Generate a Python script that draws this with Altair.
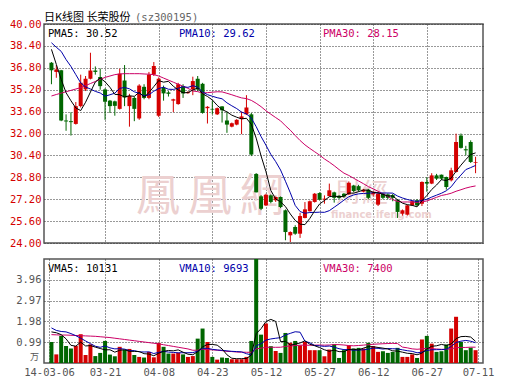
import altair as alt
import pandas as pd

# ---------------- data ----------------
title_main = "日K线图 长荣股份"
title_code = "(sz300195)"

date_labels = ["14-03-06", "03-21", "04-08", "04-23", "05-12", "05-27", "06-12", "06-27", "07-11"]
date_pos = [0.0, 11.5, 22.5, 33.5, 44.5, 55.5, 66.5, 77.5, 88.0]

price_ticks = [24.00, 25.60, 27.20, 28.80, 30.40, 32.00, 33.60, 35.20, 36.80, 38.40, 40.00]
vol_ticks = [0.99, 1.98, 2.97, 3.96]

open_ = [37.17, 36.50, 36.62, 32.95, 32.90, 32.70, 34.00, 35.22, 36.00, 36.60,
         36.13, 35.22, 34.40, 34.35, 33.80, 35.87, 34.00, 34.60, 33.10, 35.41,
         34.60, 36.30, 33.30, 35.34, 35.00, 34.40, 34.15, 35.46, 34.95, 35.22,
         36.00, 35.63, 33.85, 33.80, 33.40, 33.98, 32.95, 32.50, 32.65, 33.05,
         33.40, 33.40, 29.05, 27.41, 26.75, 27.48, 27.12, 27.36, 26.39, 24.56,
         25.17, 24.68, 25.83, 26.32, 27.00, 27.65, 27.17, 27.43, 27.70, 27.45,
         27.60, 27.55, 28.20, 28.15, 27.75, 27.90, 27.55, 26.80, 27.60, 27.55,
         27.50, 27.12, 26.14, 26.07, 26.75, 27.12, 26.87, 28.46, 28.34, 28.94,
         28.99, 28.82, 28.58, 29.19, 31.85, 30.85, 31.38, 29.85]
high_ = [37.22, 37.00, 36.65, 33.40, 33.55, 34.30, 36.30, 36.20, 37.90, 36.90,
         36.75, 35.30, 34.45, 34.40, 36.73, 37.00, 34.90, 34.70, 35.60, 35.60,
         36.50, 37.22, 36.10, 35.50, 35.10, 34.54, 35.70, 35.60, 35.10, 36.15,
         36.20, 35.70, 34.00, 34.40, 33.90, 34.00, 33.60, 32.80, 33.05, 33.60,
         34.80, 33.50, 29.10, 27.50, 27.60, 27.55, 27.40, 27.40, 26.45, 24.85,
         25.30, 26.20, 26.99, 27.10, 27.65, 27.70, 27.48, 28.34, 27.75, 27.50,
         27.65, 28.50, 28.25, 28.25, 27.95, 27.95, 27.80, 27.75, 27.68, 27.62,
         27.58, 27.20, 26.45, 26.80, 27.10, 27.20, 28.50, 28.80, 29.10, 29.05,
         29.00, 28.85, 29.50, 31.99, 32.00, 31.10, 31.50, 30.30]
low_ = [35.60, 36.07, 32.90, 32.20, 31.85, 32.65, 33.90, 35.10, 35.95, 36.30,
        35.20, 33.00, 33.50, 33.30, 33.75, 34.00, 32.50, 32.90, 33.00, 34.50,
        34.50, 36.20, 33.20, 34.40, 34.70, 33.56, 34.10, 34.60, 34.90, 34.80,
        35.10, 33.45, 32.73, 33.40, 33.35, 32.80, 32.05, 32.45, 32.60, 31.95,
        33.35, 30.35, 27.70, 26.40, 26.70, 26.90, 27.00, 26.55, 24.20, 24.07,
        24.60, 24.37, 25.80, 26.30, 26.95, 27.10, 26.87, 27.40, 26.95, 27.20,
        27.30, 27.50, 27.70, 27.75, 27.70, 27.20, 27.40, 26.70, 27.20, 27.20,
        27.05, 25.83, 26.00, 26.00, 26.70, 26.70, 26.70, 27.75, 28.30, 28.60,
        28.60, 27.90, 28.50, 29.15, 30.90, 30.40, 29.85, 29.10]
close_ = [36.62, 36.68, 32.95, 32.88, 32.83, 34.00, 35.71, 36.00, 36.60, 36.50,
          35.46, 34.32, 34.00, 34.02, 36.37, 34.63, 34.75, 33.80, 35.50, 34.60,
          36.30, 36.93, 36.00, 34.93, 34.90, 34.50, 35.60, 34.93, 35.02, 35.83,
          35.22, 33.51, 33.95, 33.75, 33.85, 33.70, 32.65, 32.75, 33.00, 33.25,
          33.90, 30.46, 27.70, 26.50, 27.53, 27.00, 27.36, 26.63, 24.80, 24.80,
          24.68, 25.97, 26.46, 27.05, 27.60, 27.17, 27.24, 27.85, 27.30, 27.30,
          27.40, 28.40, 27.80, 27.85, 27.90, 27.30, 27.68, 27.60, 27.30, 27.30,
          27.30, 26.27, 26.39, 26.75, 27.05, 26.75, 28.46, 28.34, 28.94, 28.70,
          28.70, 28.09, 29.31, 31.38, 30.95, 30.77, 29.92, 29.90]
volume = [1.00, 0.41, 1.29, 0.81, 0.69, 0.81, 1.37, 0.38, 0.89, 0.33,
          0.48, 1.05, 0.40, 0.32, 0.77, 0.62, 0.67, 0.38, 0.29, 0.26,
          0.53, 0.27, 0.96, 0.77, 0.45, 0.45, 0.49, 0.41, 0.29, 0.33,
          1.16, 1.64, 1.00, 0.29, 0.16, 0.26, 0.24, 0.18, 0.18, 0.18,
          0.29, 1.05, 5.30, 1.35, 1.88, 0.80, 0.57, 0.48, 1.43, 0.96,
          1.05, 0.84, 1.00, 0.61, 0.61, 0.61, 0.32, 0.64, 0.89, 0.24,
          0.61, 0.84, 0.69, 0.72, 0.69, 0.96, 0.80, 0.53, 0.56, 0.48,
          0.53, 0.72, 0.29, 0.29, 0.41, 0.24, 1.12, 1.29, 0.92, 0.53,
          0.56, 0.88, 1.64, 2.20, 1.00, 0.61, 0.73, 0.61]

# moving-average values at the start of the window
pma5_lead = [38.15, 37.05, 35.95, 34.98]
pma10_lead = [38.63, 38.30, 38.00, 37.40, 36.90, 36.30, 35.70, 35.40, 35.25]
pma30_lead = [34.74, 34.85, 34.95, 35.05, 35.15, 35.25, 35.35, 35.50, 35.65, 35.80,
              35.95, 36.10, 36.20, 36.30, 36.35, 36.37, 36.37, 36.37, 36.37, 36.35,
              36.33, 36.30, 36.20, 36.05, 35.90, 35.75, 35.60, 35.45, 35.30]
vma5_lead = [1.48, 1.44, 1.35, 1.15]
vma10_lead = [1.67, 1.55, 1.50, 1.48, 1.40, 1.30, 1.18, 1.05, 0.92]
vma30_lead = [1.35, 1.34, 1.33, 1.33, 1.32, 1.31, 1.30, 1.29, 1.28, 1.27,
              1.25, 1.23, 1.21, 1.18, 1.15, 1.12, 1.09, 1.06, 1.03, 1.00,
              0.97, 0.94, 0.91, 0.87, 0.83, 0.79, 0.75, 0.71, 0.67]

price_legend = [("PMA5: ", "30.52"), ("PMA10: ", "29.62"), ("PMA30: ", "28.15")]
vol_legend = [("VMA5: ", "10131"), ("VMA10: ", "9693"), ("VMA30: ", "7400")]
unit_label = "万"
watermark = ["鳳", "凰", "網"]
watermark2 = "財經"
watermark3 = "finance.ifeng.com"

# ---------------- styles ----------------
RED = "#d40000"
GREEN = "#006600"
MA_COLORS = ["#000000", "#0000aa", "#cc0066"]
MONO = "DejaVu Sans Mono"
CJK = "Noto Sans CJK SC"
GRID = "#333333"
WM = "#ecd0d0"


def moving(values, window, lead):
    out = []
    for k in range(len(values)):
        if k < len(lead):
            out.append(lead[k])
        else:
            out.append(sum(values[k - window + 1:k + 1]) / window)
    return out


n = len(close_)
df = pd.DataFrame({"i": list(range(n)), "open": open_, "high": high_, "low": low_,
                   "close": close_, "vol": volume})
df["x"] = df["i"] + 0.5

ma_rows = []
for name, w, lead in [("MA5", 5, pma5_lead), ("MA10", 10, pma10_lead), ("MA30", 30, pma30_lead)]:
    for k, v in enumerate(moving(close_, w, lead)):
        ma_rows.append({"x": k + 0.5, "value": v, "series": name})
pma_df = pd.DataFrame(ma_rows)
vm_rows = []
for name, w, lead in [("MA5", 5, vma5_lead), ("MA10", 10, vma10_lead), ("MA30", 30, vma30_lead)]:
    for k, v in enumerate(moving(volume, w, lead)):
        vm_rows.append({"x": k + 0.5, "value": v, "series": name})
vma_df = pd.DataFrame(vm_rows)

xscale = alt.Scale(domain=[0, 88], nice=False, zero=False)
grid_x = date_pos[1:-1]

label_expr = ""
for p, l in zip(date_pos, date_labels):
    label_expr += f"datum.value == {p} ? '{l}' : "
label_expr += "''"


def xp(field):
    return alt.X(field, scale=xscale,
                 axis=alt.Axis(values=grid_x, labels=False, ticks=False, domain=False, grid=True,
                               gridColor=GRID, gridDash=[1, 2], gridWidth=1, title=None))


def xv(field):
    return alt.X(field, scale=xscale,
                 axis=alt.Axis(values=date_pos, labelExpr=label_expr, ticks=False, domain=False,
                               grid=True, gridColor=GRID, gridDash=[1, 2], gridWidth=1, title=None,
                               labelColor="#555555", labelFont=MONO, labelFontSize=10.5,
                               labelPadding=4, labelFlush=False, labelOverlap=False,
                               labelBound=False, labelAngle=0))


def yp(field):
    return alt.Y(field, scale=alt.Scale(domain=[24, 40], nice=False, zero=False),
                 axis=alt.Axis(values=price_ticks, format=".2f", labelColor=RED, labelFont=MONO,
                               labelFontSize=10.5, labelPadding=3, ticks=False, domain=False,
                               grid=True, gridColor=GRID, gridDash=[1, 2], gridWidth=1, title=None))


def yv(field):
    return alt.Y(field, scale=alt.Scale(domain=[0, 4.95], nice=False, zero=True),
                 axis=alt.Axis(values=vol_ticks, format=".2f", labelColor="#555555", labelFont=MONO,
                               labelFontSize=10.5, labelPadding=3, ticks=False, domain=False,
                               grid=True, gridColor=GRID, gridDash=[1, 2], gridWidth=1, title=None))


def text(s, x, y, color, size, font, align="left", baseline="middle", weight="normal"):
    return alt.Chart(pd.DataFrame({"t": [s]})).mark_text(
        align=align, baseline=baseline, color=color, fontSize=size, font=font, fontWeight=weight
    ).encode(x=alt.value(x), y=alt.value(y), text="t:N")


updown = alt.condition("datum.close >= datum.open", alt.value(RED), alt.value(GREEN))
base = alt.Chart(df)

# ---------------- price panel ----------------
wm_layers = [text(c, 92 + 52 * k, 174, WM, 44, CJK) for k, c in enumerate(watermark)]
wm_layers.append(text(watermark2, 292, 170, WM, 26, CJK))
wm_layers.append(text(watermark3, 287, 191, WM, 10, "DejaVu Sans", weight="bold"))

wick = base.mark_rule(strokeWidth=1).encode(x=xp("x:Q"), y=yp("low:Q"), y2="high:Q", color=updown)
body = base.mark_bar(size=4).encode(x=xp("x:Q"), y=yp("open:Q"), y2="close:Q", color=updown)
pma_lines = [
    alt.Chart(pma_df).transform_filter(alt.datum.series == s).mark_line(strokeWidth=1, color=c)
    .encode(x=xp("x:Q"), y=yp("value:Q"))
    for s, c in zip(["MA30", "MA10", "MA5"], MA_COLORS[::-1])
]
legend_x = [4, 135, 279]
p_leg = [text(a + b, lx, 10, c, 10.5, MONO) for (a, b), lx, c in zip(price_legend, legend_x, MA_COLORS)]
titles = [text(title_main, 0, -6, "#000000", 11, CJK, baseline="middle"),
          text(title_code, 91, -6, "#666666", 10.5, MONO, baseline="middle")]

price = alt.layer(*wm_layers, wick, body, *pma_lines, *p_leg, *titles).properties(width=439, height=219)

# ---------------- volume panel ----------------
vbars = base.mark_bar(size=4, clip=True).encode(x=xv("x:Q"), y=yv("vol:Q"), y2=alt.datum(0), color=updown)
vma_lines = [
    alt.Chart(vma_df).transform_filter(alt.datum.series == s).mark_line(strokeWidth=1, color=c, clip=True)
    .encode(x=xv("x:Q"), y=yv("value:Q"))
    for s, c in zip(["MA30", "MA10", "MA5"], MA_COLORS[::-1])
]
v_leg = [text(a + b, lx, 10, c, 10.5, MONO) for (a, b), lx, c in zip(vol_legend, legend_x, MA_COLORS)]
unit = text(unit_label, -5, 98, "#555555", 9, CJK, align="right")

vol = alt.layer(vbars, *vma_lines, *v_leg, unit).properties(width=439, height=104)

chart = (
    alt.vconcat(price, vol, spacing=16, bounds="flush")
    .properties(padding={"left": 0, "top": 3, "right": 4, "bottom": 4})
    .configure(background="white")
    .configure_view(stroke="#555555", strokeWidth=1.5)
)

chart.save("out.html", embed_options={"renderer": "svg", "actions": False})
